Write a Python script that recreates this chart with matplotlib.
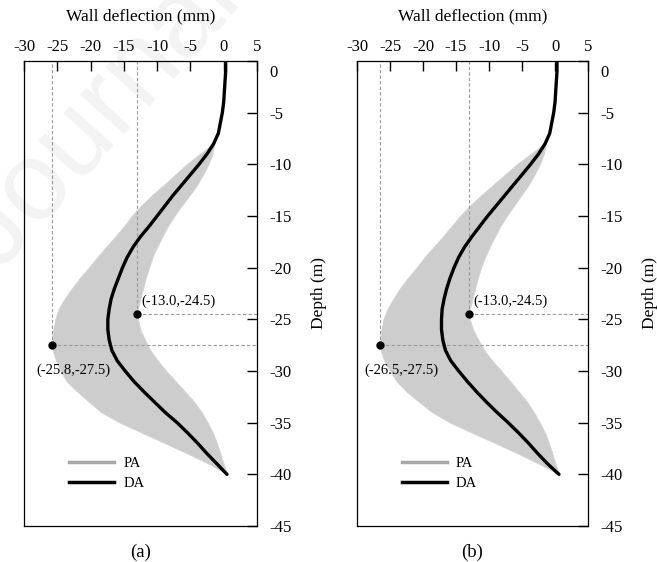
import numpy as np
import matplotlib.pyplot as plt
from matplotlib.transforms import ScaledTranslation
from matplotlib.lines import Line2D

plt.rcParams['font.family'] = ['Liberation Serif', 'DejaVu Serif']
plt.rcParams['axes.unicode_minus'] = False

# =========================
# DATA
# =========================
# depth of the deterministic (DA) profile, m
depth_da = np.arange(0, -41, -1)

# DA wall deflection, mm
da_a = [0.3, 0.3, 0.2, 0.1, 0.0, -0.2, -0.5, -0.8, -1.5, -2.5,
        -3.7, -5.0, -6.3, -7.6, -8.8, -10.0, -11.2, -12.5, -13.6, -14.5,
        -15.2, -15.8, -16.4, -16.9, -17.2, -17.4, -17.4, -17.2, -16.8, -16.0,
        -14.8, -13.5, -12.0, -10.4, -8.8, -7.0, -5.4, -3.9, -2.5, -1.0, 0.5]
da_b = [0.3, 0.3, 0.2, 0.1, 0.0, -0.2, -0.5, -0.8, -1.5, -2.5,
        -3.7, -5.0, -6.3, -7.6, -8.9, -10.2, -11.4, -12.6, -13.7, -14.6,
        -15.3, -15.9, -16.4, -16.8, -17.1, -17.2, -17.2, -17.0, -16.6, -15.8,
        -14.6, -13.3, -11.9, -10.4, -8.8, -7.1, -5.5, -4.0, -2.6, -1.1, 0.6]

# envelope of the probabilistic (PA) profiles
depth_pa = np.arange(-8, -41, -1)
pa_min_a = [-1.6, -3.6, -5.6, -7.3, -9.0, -10.8, -12.4, -13.8, -15.0, -16.3,
            -17.7, -19.0, -20.3, -21.6, -22.8, -23.9, -24.8, -25.3, -25.6, -25.8,
            -25.7, -25.2, -24.5, -23.6, -22.0, -20.2, -18.4, -15.6, -12.2, -8.8,
            -5.4, -2.2, 0.5]
pa_max_a = [-1.4, -1.7, -2.3, -3.1, -4.0, -5.1, -6.3, -7.4, -8.4, -9.2,
            -10.0, -10.7, -11.2, -11.7, -12.1, -12.5, -12.9, -12.9, -12.5, -11.8,
            -11.0, -9.9, -8.6, -7.2, -5.8, -4.4, -3.3, -2.4, -1.6, -1.0,
            -0.5, 0.0, 0.5]
pa_min_b = [-1.6, -3.7, -5.8, -7.6, -9.4, -11.2, -12.9, -14.4, -15.7, -17.0,
            -18.4, -19.8, -21.0, -22.3, -23.5, -24.5, -25.4, -26.0, -26.3, -26.5,
            -26.4, -25.9, -25.0, -24.0, -22.5, -20.6, -18.6, -15.9, -12.5, -9.0,
            -5.6, -2.4, 0.6]
pa_max_b = [-1.4, -1.7, -2.3, -3.1, -4.0, -5.1, -6.2, -7.3, -8.3, -9.1,
            -9.9, -10.6, -11.2, -11.7, -12.1, -12.5, -12.9, -12.9, -12.4, -11.6,
            -10.7, -9.5, -8.1, -6.8, -5.5, -4.2, -3.2, -2.3, -1.5, -0.9,
            -0.4, 0.1, 0.6]

# marked extreme points (deflection, depth)
pt_right = [(-13.0, -24.5), (-13.0, -24.5)]
pt_left = [(-25.8, -27.5), (-26.5, -27.5)]
panel_tags = ["(a)", "(b)"]

xticks = np.arange(-30, 10, 5)
yticks = np.arange(0, -50, -5)

# =========================
# PLOT
# =========================
fig = plt.figure(figsize=(6.57, 5.62), dpi=100)

# faint watermark behind both panels
fig.text(0.0, 0.515, "Journal Pre-proof", rotation=48, rotation_mode="anchor",
         fontsize=80, color="#f3f3f3", family="Liberation Sans", zorder=-5)

rects = [[0.0365, 0.0641, 0.3546, 0.8274], [0.5434, 0.0641, 0.3516, 0.8274]]
panels = [(da_a, pa_min_a, pa_max_a), (da_b, pa_min_b, pa_max_b)]

for i, rect in enumerate(rects):
    ax = fig.add_axes(rect)
    ax.patch.set_facecolor("none")
    da, pmin, pmax = panels[i]

    ax.fill_betweenx(depth_pa, pmin, pmax, color="#cdcdcd", lw=0.6,
                     edgecolor="#d4d4d4", zorder=1)
    ax.plot(da, depth_da, color="black", lw=2.4, solid_capstyle="round", zorder=3)

    # guide lines to the extreme points
    for (px, py) in (pt_right[i], pt_left[i]):
        ax.plot([px, px], [py, 0], ls=(0, (3, 2)), color="#9a9a9a", lw=0.8, zorder=2)
        ax.plot([px, 5], [py, py], ls=(0, (3, 2)), color="#9a9a9a", lw=0.8, zorder=2)
        ax.plot(px, py, "o", color="black", ms=5, zorder=4)

    rx, ry = pt_right[i]
    lx, ly = pt_left[i]
    ax.text(rx + 0.7, ry + 1.2, f"({rx:.1f},{ry:.1f})", ha="left", va="center",
            fontsize=10.5)
    ax.text(lx + 3.2, ly - 2.4, f"({lx:.1f},{ly:.1f})", ha="center", va="center",
            fontsize=10.5)

    ax.set_xlim(-30, 5)
    ax.set_ylim(-45, 0)
    ax.set_xticks(xticks)
    ax.set_yticks(yticks)
    ax.xaxis.set_label_position("top")
    ax.yaxis.set_label_position("right")
    ax.tick_params(axis="x", direction="in", length=7.5, width=1,
                   pad=4, labelsize=12, top=True, bottom=False,
                   labeltop=True, labelbottom=False, color="black")
    ax.tick_params(axis="y", direction="in", length=7, width=1,
                   pad=9, labelsize=12, right=True, left=False,
                   labelright=True, labelleft=False, color="black")
    for sp in ax.spines.values():
        sp.set_linewidth(0.9)
    ax.set_xlabel("Wall deflection (mm)", fontsize=12.5, labelpad=14)
    ax.set_ylabel("Depth (m)", fontsize=12.5, labelpad=14)

    handles = [Line2D([], [], color="#a8a8a8", lw=2.5),
               Line2D([], [], color="black", lw=2.5)]
    ax.legend(handles, ["PA", "DA"], loc="center left",
              bbox_to_anchor=(0.194, 0.1135), frameon=False, fontsize=10.5,
              borderpad=0, borderaxespad=0, handlelength=3.1,
              handletextpad=0.6, labelspacing=0.45)

    ax.text(0.5, -0.056, panel_tags[i], transform=ax.transAxes, ha="center",
            va="center", fontsize=13.5)

    # the "0" depth label sits a little below its tick
    lbl = ax.yaxis.get_major_ticks()[0].label2
    lbl.set_transform(lbl.get_transform() +
                      ScaledTranslation(0, -7 / 72, fig.dpi_scale_trans))

fig.savefig("out.png", dpi=100)
